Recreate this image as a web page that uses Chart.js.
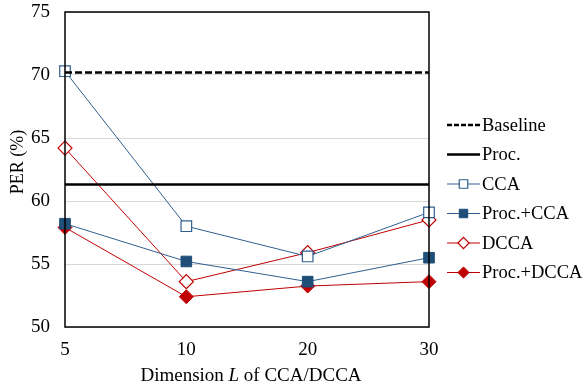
<!DOCTYPE html>
<html><head><meta charset="utf-8">
<script src="https://cdn.jsdelivr.net/npm/chart.js@4/dist/chart.umd.min.js"></script>
<style>html,body{margin:0;padding:0;background:#fff}#wrap{width:585px;height:385px}</style>
</head><body><div id="wrap"><canvas id="c" width="585" height="385"></canvas></div>
<script>
const categories = ["5", "10", "20", "30"];
const baseline = [70.2, 70.2, 70.2, 70.2];
const proc = [61.3, 61.3, 61.3, 61.3];
const cca = [70.3, 58.0, 55.6, 59.1];
const procCca = [58.2, 55.2, 53.6, 55.5];
const dcca = [64.2, 53.6, 55.9, 58.5];
const procDcca = [57.9, 52.4, 53.25, 53.6];
const yTicks = [50, 55, 60, 65, 70, 75];

const BLUE = '#1F4E79', BLUE_L = '#2F5F8F', RED = '#C00000';
const FONT = '"Liberation Serif", "Times New Roman", serif';

const datasets = [
  {label:'Baseline', data:baseline, borderColor:'#000', borderWidth:2.5, borderDash:[7,3], legendDash:[5,2], pointRadius:0, fill:false},
  {label:'Proc.', data:proc, borderColor:'#000', borderWidth:2.5, pointRadius:0, fill:false},
  {label:'CCA', data:cca, borderColor:BLUE_L, borderWidth:1, pointStyle:'rect', pointRadius:7.5, pointBorderColor:BLUE_L, pointBackgroundColor:'#fff', pointBorderWidth:1.2},
  {label:'Proc.+CCA', data:procCca, borderColor:BLUE_L, borderWidth:1, pointStyle:'rect', pointRadius:7.5, pointBorderColor:BLUE, pointBackgroundColor:BLUE, pointBorderWidth:1},
  {label:'DCCA', data:dcca, borderColor:RED, borderWidth:1, pointStyle:'rectRot', pointRadius:7, pointBorderColor:RED, pointBackgroundColor:'#fff', pointBorderWidth:1.2},
  {label:'Proc.+DCCA', data:procDcca, borderColor:RED, borderWidth:1, pointStyle:'rectRot', pointRadius:7, pointBorderColor:RED, pointBackgroundColor:RED, pointBorderWidth:1}
];

const deco = {
  id:'deco',
  afterDraw(chart){
    const {ctx, chartArea:a} = chart;
    ctx.save();
    ctx.strokeStyle = '#000'; ctx.lineWidth = 1.5;
    ctx.strokeRect(a.left, a.top, a.right - a.left, a.bottom - a.top);
    // x-axis title with italic L
    ctx.fillStyle = '#000'; ctx.textBaseline = 'middle';
    const p1 = 'Dimension ', p2 = 'L', p3 = ' of CCA/DCCA';
    const fN = '19px ' + FONT, fI = 'italic 19px ' + FONT;
    ctx.font = fN; const w1 = ctx.measureText(p1).width, w3 = ctx.measureText(p3).width;
    ctx.font = fI; const w2 = ctx.measureText(p2).width;
    let x = 251 - (w1 + w2 + w3) / 2;
    const y = 376; ctx.textAlign = 'left';
    ctx.font = fN; ctx.fillText(p1, x, y); x += w1;
    ctx.font = fI; ctx.fillText(p2, x, y); x += w2;
    ctx.font = fN; ctx.fillText(p3, x, y);
    // y-axis title
    ctx.save(); ctx.translate(18, 162); ctx.rotate(-Math.PI / 2);
    ctx.textAlign = 'center'; ctx.font = '18px ' + FONT; ctx.fillText('PER (%)', 0, 0); ctx.restore();
    // legend
    chart.data.datasets.forEach((ds, i) => {
      const ly = 125 + i * 29.5, x0 = 447, x1 = 480, xm = (x0 + x1) / 2;
      ctx.save();
      ctx.strokeStyle = ds.borderColor; ctx.lineWidth = ds.borderWidth;
      ctx.setLineDash(ds.legendDash || []);
      ctx.beginPath(); ctx.moveTo(x0, ly); ctx.lineTo(x1, ly); ctx.stroke();
      ctx.setLineDash([]);
      if (ds.pointRadius) {
        ctx.fillStyle = ds.pointBackgroundColor; ctx.strokeStyle = ds.pointBorderColor; ctx.lineWidth = ds.pointBorderWidth;
        Chart.helpers.drawPoint(ctx, {pointStyle: ds.pointStyle, radius: ds.pointRadius * 0.8, borderWidth: ds.pointBorderWidth}, xm, ly);
      }
      ctx.restore();
      ctx.fillStyle = '#000'; ctx.font = '18.5px ' + FONT; ctx.textAlign = 'left'; ctx.textBaseline = 'middle';
      ctx.fillText(ds.label, x1 + 2, ly + 1);
    });
    ctx.restore();
  }
};

new Chart(document.getElementById('c'), {
  type:'line',
  data:{labels:categories, datasets},
  options:{
    responsive:false, animation:false,
    layout:{padding:{top:12, right:156, left:0, bottom:0}},
    plugins:{legend:{display:false}, tooltip:{enabled:false}},
    elements:{line:{tension:0}},
    scales:{
      x:{offset:false, grid:{display:false, drawTicks:false}, border:{display:false},
         ticks:{color:'#000', font:{family:FONT, size:19}, padding:12},
         afterFit(s){ s.height = 58; s.paddingLeft = 0; s.paddingRight = 0; }},
      y:{min:50, max:75, grid:{color:'#d9d9d9', lineWidth:1, drawTicks:false}, border:{display:false},
         afterBuildTicks(s){ s.ticks = yTicks.map(v => ({value:v})); },
         ticks:{color:'#000', font:{family:FONT, size:19}, padding:15},
         afterFit(s){ s.width = 65; s.paddingTop = 0; s.paddingBottom = 0; }}
    }
  },
  plugins:[deco]
});
</script></body></html>
